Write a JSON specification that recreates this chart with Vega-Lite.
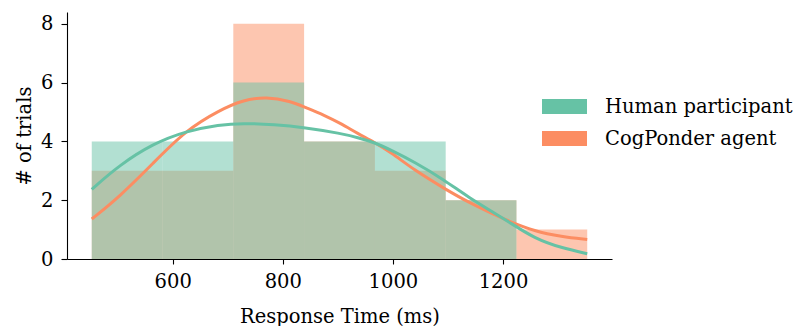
{
  "$schema": "https://vega.github.io/schema/vega-lite/v6.json",
  "width": 545,
  "height": 247,
  "autosize": {"type": "none"},
  "padding": {"left": 67, "top": 12, "right": 185, "bottom": 67},
  "background": "white",
  "config": {
    "view": {"stroke": null},
    "font": "DejaVu Serif",
    "axis": {
      "grid": false,
      "domainColor": "black",
      "domainWidth": 1.1,
      "tickColor": "black",
      "tickWidth": 1.1,
      "labelColor": "black",
      "labelFont": "DejaVu Serif",
      "labelFontSize": 19.5,
      "titleColor": "black",
      "titleFont": "DejaVu Serif",
      "titleFontSize": 19.5,
      "titleFontWeight": "normal"
    }
  },
  "datasets": {
    "bins": [
      {"bin_start": 453, "bin_end": 581.6, "count": 3, "series": "CogPonder agent"},
      {"bin_start": 581.6, "bin_end": 710.1, "count": 3, "series": "CogPonder agent"},
      {"bin_start": 710.1, "bin_end": 838.7, "count": 8, "series": "CogPonder agent"},
      {"bin_start": 838.7, "bin_end": 967.3, "count": 4, "series": "CogPonder agent"},
      {"bin_start": 967.3, "bin_end": 1095.9, "count": 3, "series": "CogPonder agent"},
      {"bin_start": 1095.9, "bin_end": 1224.4, "count": 2, "series": "CogPonder agent"},
      {"bin_start": 1224.4, "bin_end": 1353, "count": 1, "series": "CogPonder agent"},
      {"bin_start": 453, "bin_end": 581.6, "count": 4, "series": "Human participant"},
      {"bin_start": 581.6, "bin_end": 710.1, "count": 4, "series": "Human participant"},
      {"bin_start": 710.1, "bin_end": 838.7, "count": 6, "series": "Human participant"},
      {"bin_start": 838.7, "bin_end": 967.3, "count": 4, "series": "Human participant"},
      {"bin_start": 967.3, "bin_end": 1095.9, "count": 4, "series": "Human participant"},
      {"bin_start": 1095.9, "bin_end": 1224.4, "count": 2, "series": "Human participant"},
      {"bin_start": 1224.4, "bin_end": 1353, "count": 0, "series": "Human participant"}
    ],
    "kde": [
      {"rt": 453, "density": 1.36, "series": "CogPonder agent"},
      {"rt": 503, "density": 2.11, "series": "CogPonder agent"},
      {"rt": 564, "density": 3.25, "series": "CogPonder agent"},
      {"rt": 624, "density": 4.38, "series": "CogPonder agent"},
      {"rt": 685, "density": 5.06, "series": "CogPonder agent"},
      {"rt": 727, "density": 5.4, "series": "CogPonder agent"},
      {"rt": 770, "density": 5.52, "series": "CogPonder agent"},
      {"rt": 815, "density": 5.36, "series": "CogPonder agent"},
      {"rt": 839, "density": 5.17, "series": "CogPonder agent"},
      {"rt": 876, "density": 4.89, "series": "CogPonder agent"},
      {"rt": 906, "density": 4.6, "series": "CogPonder agent"},
      {"rt": 936, "density": 4.27, "series": "CogPonder agent"},
      {"rt": 967, "density": 3.96, "series": "CogPonder agent"},
      {"rt": 997, "density": 3.62, "series": "CogPonder agent"},
      {"rt": 1039, "density": 3.02, "series": "CogPonder agent"},
      {"rt": 1094, "density": 2.39, "series": "CogPonder agent"},
      {"rt": 1136, "density": 1.94, "series": "CogPonder agent"},
      {"rt": 1191, "density": 1.45, "series": "CogPonder agent"},
      {"rt": 1209, "density": 1.3, "series": "CogPonder agent"},
      {"rt": 1258, "density": 0.94, "series": "CogPonder agent"},
      {"rt": 1306, "density": 0.76, "series": "CogPonder agent"},
      {"rt": 1353, "density": 0.66, "series": "CogPonder agent"},
      {"rt": 453, "density": 2.37, "series": "Human participant"},
      {"rt": 503, "density": 3.19, "series": "Human participant"},
      {"rt": 564, "density": 3.92, "series": "Human participant"},
      {"rt": 624, "density": 4.35, "series": "Human participant"},
      {"rt": 685, "density": 4.57, "series": "Human participant"},
      {"rt": 727, "density": 4.62, "series": "Human participant"},
      {"rt": 785, "density": 4.57, "series": "Human participant"},
      {"rt": 839, "density": 4.47, "series": "Human participant"},
      {"rt": 906, "density": 4.27, "series": "Human participant"},
      {"rt": 936, "density": 4.13, "series": "Human participant"},
      {"rt": 967, "density": 3.96, "series": "Human participant"},
      {"rt": 997, "density": 3.7, "series": "Human participant"},
      {"rt": 1039, "density": 3.3, "series": "Human participant"},
      {"rt": 1094, "density": 2.68, "series": "Human participant"},
      {"rt": 1136, "density": 2.11, "series": "Human participant"},
      {"rt": 1191, "density": 1.49, "series": "Human participant"},
      {"rt": 1209, "density": 1.28, "series": "Human participant"},
      {"rt": 1258, "density": 0.69, "series": "Human participant"},
      {"rt": 1306, "density": 0.38, "series": "Human participant"},
      {"rt": 1353, "density": 0.18, "series": "Human participant"}
    ]
  },
  "layer": [
    {
      "data": {"name": "bins"},
      "transform": [{"filter": "datum.series === 'CogPonder agent'"}],
      "mark": {"type": "bar", "opacity": 0.5},
      "encoding": {
        "x": {
          "field": "bin_start",
          "type": "quantitative",
          "scale": {"domain": [408, 1398], "nice": false, "zero": false},
          "axis": {
            "values": [600, 800, 1000, 1200],
            "format": "d",
            "tickSize": 5,
            "labelPadding": 23,
            "labelBaseline": "alphabetic",
            "title": "Response Time (ms)",
            "titleBaseline": "alphabetic",
            "titleY": 63
          }
        },
        "x2": {"field": "bin_end"},
        "y": {
          "field": "count",
          "type": "quantitative",
          "stack": null,
          "scale": {"domain": [0, 8.4], "nice": false},
          "axis": {
            "values": [0, 2, 4, 6, 8],
            "tickSize": 6,
            "labelPadding": 8,
            "labelBaseline": "middle",
            "title": "# of trials",
            "titleBaseline": "alphabetic",
            "titleX": -37
          }
        },
        "y2": {"datum": 0},
        "color": {
          "field": "series",
          "type": "nominal",
          "scale": {
            "domain": ["Human participant", "CogPonder agent"],
            "range": ["#66c2a5", "#fc8d62"]
          },
          "legend": {
            "orient": "none",
            "legendX": 475,
            "legendY": 72,
            "title": null,
            "padding": 0,
            "symbolType": "M-1,-0.333H1V0.333H-1Z",
            "symbolSize": 2025,
            "symbolOpacity": 1,
            "symbolStrokeWidth": 0,
            "labelFont": "DejaVu Serif",
            "labelFontSize": 19.5,
            "labelColor": "black",
            "labelOffset": 18,
            "labelLimit": 400,
            "rowPadding": -1,
            "encode": {
              "symbols": {"update": {"opacity": {"value": 1}, "fillOpacity": {"value": 1}}}
            }
          }
        }
      }
    },
    {
      "data": {"name": "bins"},
      "transform": [{"filter": "datum.series === 'Human participant'"}],
      "mark": {"type": "bar", "opacity": 0.5},
      "encoding": {
        "x": {"field": "bin_start", "type": "quantitative"},
        "x2": {"field": "bin_end"},
        "y": {"field": "count", "type": "quantitative", "stack": null},
        "y2": {"datum": 0},
        "color": {"field": "series", "type": "nominal"}
      }
    },
    {
      "data": {"name": "kde"},
      "mark": {"type": "line", "strokeWidth": 3, "interpolate": "basis"},
      "encoding": {
        "x": {"field": "rt", "type": "quantitative"},
        "y": {"field": "density", "type": "quantitative"},
        "color": {"field": "series", "type": "nominal"}
      }
    }
  ]
}
